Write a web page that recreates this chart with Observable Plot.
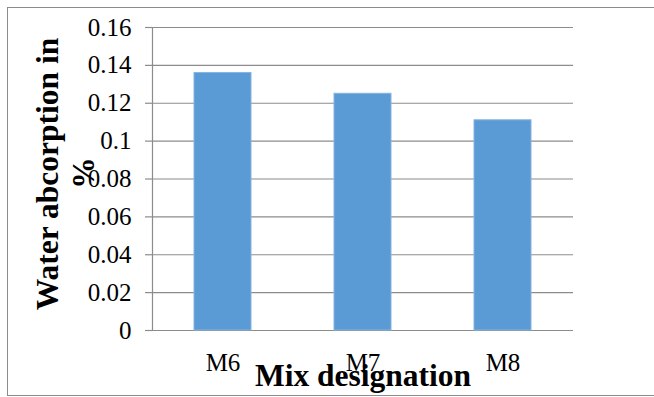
<!DOCTYPE html>
<html>
<head>
<meta charset="utf-8">
<script src="https://cdn.jsdelivr.net/npm/d3@7"></script>
<script src="https://cdn.jsdelivr.net/npm/@observablehq/plot@0.6"></script>
<style>
  html, body { margin: 0; padding: 0; background: #fff; overflow: hidden; }
  #chart { position: relative; width: 654px; height: 397px; }
  #chart svg { display: block; }
  #chart svg text { font-family: 'Liberation Serif', 'Times New Roman', serif !important; font-variant: normal !important; }
  #outline {
    position: absolute; left: 7px; top: 7px; width: 660px; height: 387px;
    border: 1px solid #8c8c8c; pointer-events: none;
  }
</style>
</head>
<body>
<div id="chart"><div id="outline"></div></div>
<script>
// Water absorption per mix
const mixes = ["M6", "M7", "M8"];
const absorption = [0.136, 0.125, 0.111];
const yTicks = [0, 0.02, 0.04, 0.06, 0.08, 0.1, 0.12, 0.14, 0.16];
const yTitle = ["Water abcorption in", "%"];
const xTitle = "Mix designation";

const rows = mixes.map((m, i) => ({mix: m, value: absorption[i]}));
const grid = "#8c8c8c";
const serif = "'Liberation Serif', 'Times New Roman', serif";

const chart = Plot.plot({
  width: 654,
  height: 397,
  marginLeft: 152,
  marginRight: 81,
  marginTop: 27,
  marginBottom: 67,
  style: {fontFamily: serif, fontSize: "25px", color: "#000", background: "transparent"},
  x: {domain: mixes, paddingInner: 0.594, paddingOuter: 0.297, axis: null},
  y: {domain: [0, 0.16], axis: null},
  marks: [
    Plot.ruleY(yTicks, {stroke: grid, strokeWidth: 1.2}),
    Plot.frame({anchor: "left", stroke: grid, strokeWidth: 1.2}),
    Plot.barY(rows, {x: "mix", y: "value", fill: "#5b9bd5", stroke: "#86b3e0", strokeWidth: 1}),
    Plot.axisY({
      ticks: yTicks, tickSize: 7, tickPadding: 14, stroke: grid, strokeWidth: 1.2,
      tickFormat: d => String(d), fontSize: 25, fontFamily: serif, fill: "#000", label: null
    }),
    Plot.axisX({
      tickSize: 0, tickPadding: 23, fontSize: 25, fontFamily: serif, fill: "#000", label: null
    }),
    Plot.text([xTitle], {
      frameAnchor: "bottom", text: d => d, dy: 55, lineAnchor: "bottom",
      fontSize: 31.5, fontWeight: "bold", fontFamily: serif, fill: "#000"
    }),
    Plot.text([yTitle[0]], {
      frameAnchor: "left", text: d => d, rotate: -90, dx: -95, dy: -5,
      lineAnchor: "bottom", textAnchor: "middle",
      fontSize: 31.5, fontWeight: "bold", fontFamily: serif, fill: "#000"
    }),
    Plot.text([yTitle[1]], {
      frameAnchor: "left", text: d => d, rotate: -90, dx: -59, dy: -6,
      lineAnchor: "bottom", textAnchor: "middle",
      fontSize: 31.5, fontWeight: "bold", fontFamily: serif, fill: "#000"
    })
  ]
});

document.getElementById("chart").prepend(chart);
</script>
</body>
</html>
